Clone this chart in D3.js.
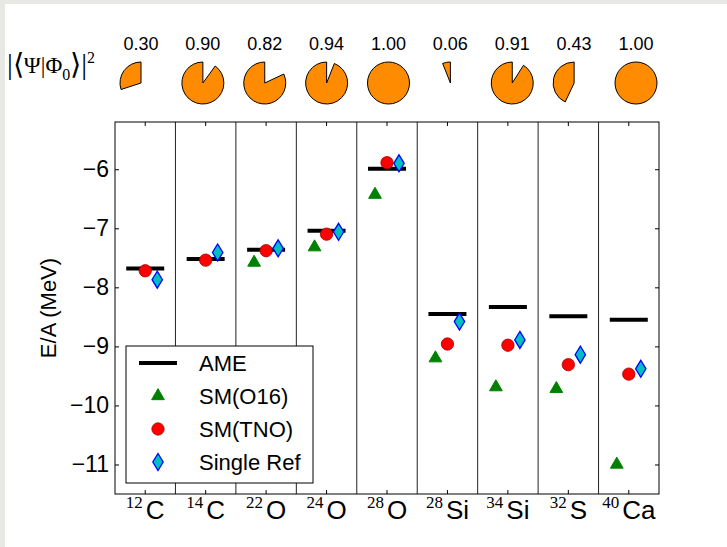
<!DOCTYPE html>
<html>
<head>
<meta charset="utf-8">
<script src="https://cdn.jsdelivr.net/npm/d3@7/dist/d3.min.js"></script>
<style>
  html, body { margin: 0; padding: 0; background: #fff; }
  svg { display: block; }
</style>
</head>
<body>
<svg id="chart" width="727" height="547"></svg>
<script>
// Nuclei along the x axis: mass number + element symbol
const massNumbers = ["12", "14", "22", "24", "28", "28", "34", "32", "40"];
const elements    = ["C", "C", "O", "O", "O", "Si", "Si", "S", "Ca"];
const nuclei = massNumbers.map((m, i) => m + elements[i]);

// Binding energy per nucleon (MeV)
const ame      = [-7.68, -7.52, -7.365, -7.04, -5.99, -8.45, -8.335, -8.49, -8.55];
const smO16    = [null, null, -7.58, -7.32, -6.43, -9.20, -9.69, -9.72, -11.00];
const smTNO    = [-7.72, -7.54, -7.38, -7.10, -5.89, -8.96, -8.98, -9.31, -9.47];
const singleRef = [-7.87, -7.41, -7.34, -7.06, -5.90, -8.58, -8.89, -9.14, -9.38];

// Overlap |<Psi|Phi0>|^2 of each nucleus
const overlap = [0.30, 0.90, 0.82, 0.94, 1.00, 0.06, 0.91, 0.43, 1.00];

const yTicks = [-11, -10, -9, -8, -7, -6];

const svg = d3.select("#chart");
const W = 727, H = 547;
const M = { left: 115, right: 659, top: 122, bottom: 494 };
const sans = "'Liberation Sans', Arial, Helvetica, sans-serif";
const serif = "'Liberation Serif', 'Times New Roman', serif";

// page frame strips
svg.append("rect").attr("x", 0).attr("y", 0).attr("width", W).attr("height", H).attr("fill", "#fff");
svg.append("rect").attr("x", 0).attr("y", 0).attr("width", 5).attr("height", H).attr("fill", "#e8e8e4");
svg.append("rect").attr("x", 0).attr("y", 0).attr("width", W).attr("height", 4).attr("fill", "#e8e8e4");

const x = d3.scaleBand().domain(nuclei).range([M.left, M.right]).paddingInner(0).paddingOuter(0);
const xc = d => x(d) + x.bandwidth() / 2;
const y = d3.scaleLinear().domain([-11.5, -5.2]).range([M.bottom, M.top]);

const plot = svg.append("g");

// column separators
plot.selectAll("line.sep").data(nuclei.slice(1)).enter().append("line")
  .attr("x1", d => x(d)).attr("x2", d => x(d))
  .attr("y1", M.top).attr("y2", M.bottom)
  .attr("stroke", "#222").attr("stroke-width", 1);

// axes with inward ticks
const tickLen = 4;
const gL = svg.append("g").attr("transform", `translate(${M.left},0)`)
  .call(d3.axisLeft(y).tickValues(yTicks).tickSizeInner(-tickLen).tickSizeOuter(0).tickPadding(6)
    .tickFormat(d => "\u2212" + Math.abs(d)));
gL.select(".domain").remove();
gL.selectAll("text").attr("font-family", sans).attr("font-size", 23).attr("fill", "#000");
gL.selectAll("line").attr("stroke", "#000");

const gR = svg.append("g").attr("transform", `translate(${M.right},0)`)
  .call(d3.axisRight(y).tickValues(yTicks).tickSizeInner(-tickLen).tickSizeOuter(0).tickFormat(""));
gR.select(".domain").remove();
gR.selectAll("line").attr("stroke", "#000");

const gT = svg.append("g").attr("transform", `translate(0,${M.top})`)
  .call(d3.axisTop(x).tickSizeInner(-tickLen).tickSizeOuter(0).tickFormat(""));
gT.select(".domain").remove();
gT.selectAll("line").attr("stroke", "#000");

const gB = svg.append("g").attr("transform", `translate(0,${M.bottom})`)
  .call(d3.axisBottom(x).tickSizeInner(-tickLen).tickSizeOuter(0).tickFormat(""));
gB.select(".domain").remove();
gB.selectAll("line").attr("stroke", "#000");

// x tick labels: superscript mass number + element
const xl = svg.append("g");
nuclei.forEach((d, i) => {
  const t = xl.append("text").attr("x", xc(d)).attr("y", 519).attr("text-anchor", "middle").attr("fill", "#000");
  t.append("tspan").attr("font-family", serif).attr("font-size", 17).attr("dy", -11).text(massNumbers[i]);
  t.append("tspan").attr("font-family", sans).attr("font-size", 26).attr("dy", 11).attr("dx", 3).text(elements[i]);
});

// y axis title
svg.append("text").attr("transform", `translate(56,${(M.top + M.bottom) / 2}) rotate(-90)`)
  .attr("text-anchor", "middle").attr("font-family", sans).attr("font-size", 22).attr("fill", "#000")
  .text("E/A (MeV)");

// AME bars
plot.selectAll("line.ame").data(nuclei).enter().append("line")
  .attr("x1", d => xc(d) - 19).attr("x2", d => xc(d) + 19)
  .attr("y1", (d, i) => y(ame[i])).attr("y2", (d, i) => y(ame[i]))
  .attr("stroke", "#000").attr("stroke-width", 4);

const triPath = d3.symbol(d3.symbolTriangle, 70)();
const circPath = d3.symbol(d3.symbolCircle, 120)();
const diamondPath = "M0,-8.5L5.2,0L0,8.5L-5.2,0Z";

const styles = {
  tri:  { path: triPath, fill: "#008000", stroke: "#008000", sw: 1 },
  circ: { path: circPath, fill: "#ff0000", stroke: "#a00000", sw: 0.8 },
  dia:  { path: diamondPath, fill: "#00bfbf", stroke: "#0000ff", sw: 1.3 }
};

function drawSeries(vals, off, st) {
  plot.selectAll(null).data(nuclei.map((d, i) => ({ d, v: vals[i] })).filter(o => o.v !== null))
    .enter().append("path")
    .attr("d", st.path)
    .attr("transform", o => `translate(${xc(o.d) + off},${y(o.v)})`)
    .attr("fill", st.fill).attr("stroke", st.stroke).attr("stroke-width", st.sw);
}
drawSeries(smO16, -12, styles.tri);
drawSeries(smTNO, 0, styles.circ);
drawSeries(singleRef, 12, styles.dia);

// frame
svg.append("rect").attr("x", M.left).attr("y", M.top)
  .attr("width", M.right - M.left).attr("height", M.bottom - M.top)
  .attr("fill", "none").attr("stroke", "#000").attr("stroke-width", 1);

// legend
const lg = svg.append("g");
lg.append("rect").attr("x", 126).attr("y", 346).attr("width", 187).attr("height", 137)
  .attr("fill", "#fff").attr("stroke", "#000").attr("stroke-width", 1);
const legendItems = [
  { label: "AME", kind: "line" },
  { label: "SM(O16)", kind: "tri" },
  { label: "SM(TNO)", kind: "circ" },
  { label: "Single Ref", kind: "dia" }
];
legendItems.forEach((it, i) => {
  const ly = 363 + i * 33;
  if (it.kind === "line") {
    lg.append("line").attr("x1", 139).attr("x2", 177).attr("y1", ly).attr("y2", ly)
      .attr("stroke", "#000").attr("stroke-width", 4);
  } else {
    const st = styles[it.kind];
    lg.append("path").attr("d", st.path).attr("transform", `translate(158,${ly})`)
      .attr("fill", st.fill).attr("stroke", st.stroke).attr("stroke-width", st.sw);
  }
  lg.append("text").attr("x", 199).attr("y", ly + 8).attr("font-family", sans).attr("font-size", 22)
    .attr("fill", "#000").text(it.label);
});

// overlap pies above the panel
const px = d3.scalePoint().domain(nuclei).range([141, 636]);
const pieY = 83, pieR = 21;
const pie = d3.pie().sort(null).startAngle(0).endAngle(-2 * Math.PI);
const arc = d3.arc().innerRadius(0).outerRadius(pieR);
const pg = svg.append("g");
nuclei.forEach((d, i) => {
  const slices = pie([overlap[i], 1 - overlap[i]]);
  pg.append("path").attr("d", arc(slices[0]))
    .attr("transform", `translate(${px(d)},${pieY})`)
    .attr("fill", "#ff8c00").attr("stroke", "#000").attr("stroke-width", 1);
  pg.append("text").attr("x", px(d)).attr("y", 50).attr("text-anchor", "middle")
    .attr("font-family", sans).attr("font-size", 18).attr("fill", "#000")
    .text(overlap[i].toFixed(2));
});

// overlap label |<Psi|Phi_0>|^2
const ol = svg.append("text").attr("x", 7).attr("y", 74).attr("font-family", serif).attr("fill", "#000");
ol.append("tspan").attr("font-size", 29).text("|\u27E8");
ol.append("tspan").attr("font-size", 23).attr("dy", -1).text("\u03A8|\u03A6");
ol.append("tspan").attr("font-size", 16).attr("dy", 7).text("0");
ol.append("tspan").attr("font-size", 29).attr("dy", -6).text("\u27E9|");
ol.append("tspan").attr("font-size", 16).attr("dy", -11).text("2");
</script>
</body>
</html>
